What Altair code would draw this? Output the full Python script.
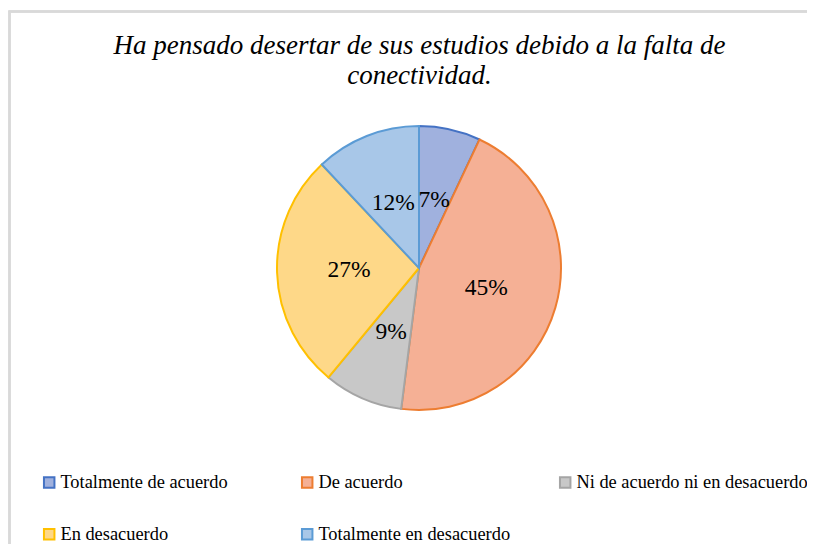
import altair as alt
import pandas as pd

categories = ["Totalmente de acuerdo", "De acuerdo", "Ni de acuerdo ni en desacuerdo",
              "En desacuerdo", "Totalmente en desacuerdo"]
values = [7, 45, 9, 27, 12]
labels = ["7%", "45%", "9%", "27%", "12%"]
fill_colors = ["#A0B1DE", "#F5B095", "#C8C8C8", "#FED888", "#A8C7E8"]
stroke_colors = ["#4472C4", "#ED7D31", "#A5A5A5", "#FFC000", "#5B9BD5"]
title_lines = ["Ha pensado desertar de sus estudios debido a la falta de", "conectividad."]

df = pd.DataFrame({"cat": categories, "val": values, "lab": labels, "idx": list(range(len(values)))})

FONT = "Liberation Serif"
W = 799
H = 536
CX, CY = 411, 260
R = 142

fill_scale = alt.Scale(domain=categories, range=fill_colors)
stroke_scale = alt.Scale(domain=categories, range=stroke_colors)

legend = alt.Legend(
    title=None, orient="none", legendX=32, legendY=465, direction="horizontal",
    columns=3, gridAlign="all", columnPadding=5, rowPadding=32,
    symbolType="square", symbolSize=110, symbolStrokeWidth=2,
    labelFont=FONT, labelFontSize=18.4, labelColor="#000000",
    labelOffset=2, labelLimit=400, padding=0,
)

base = alt.Chart(df)

arcs = base.mark_arc(strokeWidth=2, radius=R).encode(
    theta=alt.Theta("val:Q", stack=True),
    order=alt.Order("idx:Q"),
    fill=alt.Fill("cat:N", scale=fill_scale, sort=categories, legend=legend),
    stroke=alt.Stroke("cat:N", scale=stroke_scale, sort=categories, legend=legend),
    x=alt.value(CX), y=alt.value(CY),
)

texts = base.mark_text(font=FONT, fontSize=23.5, color="#000000",
                       align="center", baseline="middle").encode(
    theta=alt.Theta("val:Q", stack=True),
    order=alt.Order("idx:Q"),
    radius=alt.value(70),
    text="lab:N",
    x=alt.value(CX), y=alt.value(CY),
)

left_border = alt.Chart(df).mark_rule(color="#D9D9D9", strokeWidth=2).encode(
    x=alt.value(1.5), y=alt.value(3.5), y2=alt.value(H + 10)
)
top_border = alt.Chart(df).mark_rule(color="#D9D9D9", strokeWidth=2).encode(
    x=alt.value(0.5), x2=alt.value(W + 10), y=alt.value(3.5)
)

chart = alt.layer(left_border, top_border, arcs, texts).properties(
    width=W, height=H,
    autosize=alt.AutoSizeParams(type="none"),
    padding={"top": 0, "left": 0, "right": 0, "bottom": 0},
    title=alt.TitleParams(
        text=title_lines, font=FONT, fontStyle="italic", fontWeight="normal",
        fontSize=27, lineHeight=30, color="#000000", anchor="middle", dx=12, dy=82,
        offset=0, frame="group",
    ),
).configure(background="white").configure_view(strokeWidth=0, stroke="transparent")

chart.save("out.html", embed_options={"renderer": "svg", "actions": False})
